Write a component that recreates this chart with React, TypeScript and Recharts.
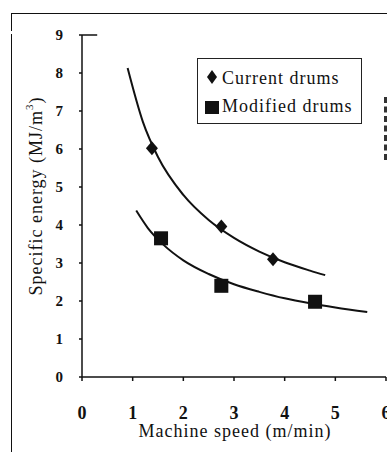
import React from 'react';
import {
  ComposedChart,
  Line,
  Scatter,
  XAxis,
  YAxis,
  ReferenceLine,
} from 'recharts';

// Measured points
const currentSpeed = [1.38, 2.75, 3.77];
const currentEnergy = [6.02, 3.96, 3.1];
const modifiedSpeed = [1.56, 2.75, 4.6];
const modifiedEnergy = [3.65, 2.4, 1.98];

// Trend curves
const currentCurveSpeed = [0.9, 1.2, 1.5, 2, 2.5, 3, 3.5, 4, 4.5, 4.8];
const currentCurveEnergy = [8.13, 6.72, 5.79, 4.79, 4.13, 3.66, 3.3, 3.02, 2.8, 2.68];
const modifiedCurveSpeed = [1.07, 1.3, 1.6, 2, 2.5, 3, 3.5, 4, 4.5, 5, 5.63];
const modifiedCurveEnergy = [4.38, 3.92, 3.49, 3.07, 2.71, 2.44, 2.24, 2.07, 1.94, 1.83, 1.71];

const xTicks = [0, 1, 2, 3, 4, 5, 6];
const yTicks = [0, 1, 2, 3, 4, 5, 6, 7, 8, 9];
const seriesNames = ['Current drums', 'Modified drums'];

const FONT = '"Liberation Serif", "Times New Roman", serif';

const zip = (xs: number[], ys: number[]) => xs.map((x, i) => ({ x, y: ys[i] }));

const currentPts = zip(currentSpeed, currentEnergy);
const modifiedPts = zip(modifiedSpeed, modifiedEnergy);
const currentCurve = zip(currentCurveSpeed, currentCurveEnergy);
const modifiedCurve = zip(modifiedCurveSpeed, modifiedCurveEnergy);

const Diamond = ({ cx, cy }: any) => (
  <path d={`M${cx},${cy - 7} L${cx + 6},${cy} L${cx},${cy + 7} L${cx - 6},${cy} Z`} fill="#111" />
);

const Square = ({ cx, cy }: any) => (
  <rect x={cx - 7} y={cy - 7} width={14} height={14} fill="#111" />
);

function LegendBox() {
  return (
    <div
      style={{
        position: 'absolute',
        left: 197,
        top: 58,
        width: 165,
        height: 66,
        border: '1.5px solid #222',
        background: '#fff',
        fontFamily: FONT,
        fontSize: 18,
        letterSpacing: 1,
        color: '#111',
        boxSizing: 'border-box',
      }}
    >
      <svg width={20} height={60} style={{ position: 'absolute', left: 4, top: 8 }}>
        <path d="M10,3 L15,10 L10,17 L5,10 Z" fill="#111" />
        <rect x={3} y={34} width={14} height={13} fill="#111" />
      </svg>
      <div style={{ position: 'absolute', left: 24, top: 9, whiteSpace: 'nowrap' }}>{seriesNames[0]}</div>
      <div style={{ position: 'absolute', left: 24, top: 37, whiteSpace: 'nowrap' }}>{seriesNames[1]}</div>
    </div>
  );
}

const YLabel = () => (
  <text
    x={36}
    y={196}
    transform="rotate(-90, 36, 196)"
    textAnchor="middle"
    dominantBaseline="central"
    fontFamily={FONT}
    fontSize={18}
    letterSpacing={1}
    fill="#111"
  >
    Specific energy (MJ/m
    <tspan dy={-7} fontSize={11}>3</tspan>
    <tspan dy={7}>)</tspan>
  </text>
);

const XLabel = () => (
  <text
    x={235}
    y={437}
    textAnchor="middle"
    fontFamily={FONT}
    fontSize={18}
    letterSpacing={1}
    fill="#111"
  >
    Machine speed (m/min)
  </text>
);

export default function App() {
  return (
    <div style={{ position: 'absolute', left: 0, top: 0, width: 387, height: 452, background: '#fff', overflow: 'hidden' }}>
      {/* scan frame */}
      <div style={{ position: 'absolute', left: 11, top: 13, width: 380, height: 445, borderTop: '1.5px solid #111', borderLeft: '1.5px solid #111' }} />
      <div style={{ position: 'absolute', left: 9, top: 31, width: 6, height: 3, background: '#fff' }} />
      <div style={{ position: 'absolute', left: 384, top: 97, width: 0, height: 63, borderLeft: '3px dashed #333' }} />
      <ComposedChart
        width={387}
        height={452}
        margin={{ top: 35, right: 1, bottom: 0, left: 0 }}
        style={{ position: 'absolute', left: 0, top: 0 }}
      >
        <XAxis
          type="number"
          dataKey="x"
          domain={[0, 6]}
          ticks={xTicks}
          height={75}
          allowDataOverflow
          interval={0}
          stroke="#111"
          strokeWidth={1.5}
          tickSize={4}
          tickMargin={25}
          tick={{ fill: '#111', fontFamily: FONT, fontSize: 18, fontWeight: 'bold' }}
          label={<XLabel />}
        />
        <YAxis
          type="number"
          dataKey="y"
          domain={[0, 9]}
          ticks={yTicks}
          width={82}
          interval={0}
          stroke="#111"
          strokeWidth={1.5}
          tickSize={3}
          tickMargin={16}
          tick={{ fill: '#111', fontFamily: FONT, fontSize: 15, fontWeight: 'bold' }}
          label={<YLabel />}
        />
        <ReferenceLine
          segment={[{ x: 0, y: 9 }, { x: 0.3, y: 9 }]}
          stroke="#111"
          strokeWidth={1.5}
          ifOverflow="visible"
        />
        <Line
          data={currentCurve}
          dataKey="y"
          type="monotone"
          stroke="#111"
          strokeWidth={2}
          dot={false}
          activeDot={false}
          isAnimationActive={false}
        />
        <Line
          data={modifiedCurve}
          dataKey="y"
          type="monotone"
          stroke="#111"
          strokeWidth={2}
          dot={false}
          activeDot={false}
          isAnimationActive={false}
        />
        <Scatter name={seriesNames[0]} data={currentPts} shape={<Diamond />} isAnimationActive={false} />
        <Scatter name={seriesNames[1]} data={modifiedPts} shape={<Square />} isAnimationActive={false} />
      </ComposedChart>
      <LegendBox />
    </div>
  );
}
